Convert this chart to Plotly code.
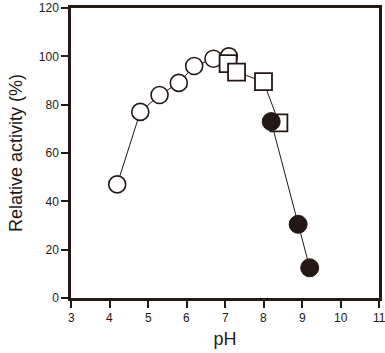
import plotly.graph_objects as go

ph_open = [4.2, 4.8, 5.3, 5.8, 6.2, 6.7, 7.1]
act_open = [47, 77, 84, 89, 96, 99, 100]
ph_square = [7.08, 7.3, 8.0, 8.4]
act_square = [97, 93.5, 89.5, 72.5]
ph_filled = [8.2, 8.9, 9.2]
act_filled = [73, 30.5, 12.5]
x_ticks = [3, 4, 5, 6, 7, 8, 9, 10, 11]

ink = "#231815"
fig = go.Figure()
fig.add_trace(go.Scatter(x=ph_open, y=act_open, mode="lines+markers",
    line=dict(color=ink, width=1),
    marker=dict(symbol="circle", size=17, color="white", line=dict(color=ink, width=1.6))))
fig.add_trace(go.Scatter(x=ph_square, y=act_square, mode="lines+markers",
    line=dict(color=ink, width=1),
    marker=dict(symbol="square", size=17, color="white", line=dict(color=ink, width=1.8))))
fig.add_trace(go.Scatter(x=ph_filled, y=act_filled, mode="lines+markers",
    line=dict(color=ink, width=1),
    marker=dict(symbol="circle", size=18, color=ink, line=dict(color=ink, width=1))))

font_name = "Liberation Sans, Arial"
axis_common = dict(showline=True, linecolor=ink, linewidth=2.5, mirror=True,
    ticks="outside", ticklen=7, tickwidth=2, tickcolor=ink, showgrid=False,
    zeroline=False, automargin=False)
fig.update_xaxes(range=[3, 11], tickvals=x_ticks, ticktext=[""] * len(x_ticks),
    title=dict(text="pH", font=dict(size=18, family=font_name, color=ink), standoff=24),
    **axis_common)
fig.update_yaxes(range=[0, 120], dtick=20,
    tickfont=dict(family=font_name, size=12, color=ink),
    title=dict(text="Relative activity (%)", font=dict(size=18, family=font_name, color=ink), standoff=12),
    **axis_common)
for v in x_ticks:
    fig.add_annotation(x=v, y=0, xref="x", yref="paper", text=str(v), showarrow=False,
        yanchor="middle", xanchor="center", yshift=-20,
        font=dict(family=font_name, size=12, color=ink))
fig.update_layout(width=385, height=353, margin=dict(l=71, r=6, t=8, b=55),
    plot_bgcolor="white", paper_bgcolor="white", showlegend=False)
fig.write_html("out.html")
